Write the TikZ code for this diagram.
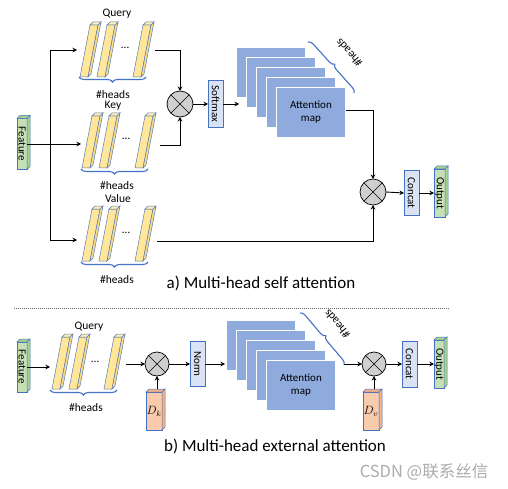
\documentclass[tikz,border=0pt]{standalone}
\usepackage{fontspec}
\setmainfont{Carlito}
\newfontfamily\cjkfont{Noto Sans CJK SC}
\usepackage{graphicx}
\usetikzlibrary{arrows.meta,decorations.pathreplacing,calc}
\definecolor{baryellow}{HTML}{FFE699}
\definecolor{barside}{HTML}{F7DB86}
\definecolor{baredge}{HTML}{5A7BB5}
\definecolor{featgreen}{HTML}{C5E0B4}
\definecolor{featside}{HTML}{A9D18E}
\definecolor{boxblue}{HTML}{DAE3F3}
\definecolor{edgeblue}{HTML}{4472C4}
\definecolor{attblue}{HTML}{8FAADC}
\definecolor{dfill}{HTML}{F8CBAD}
\definecolor{dside}{HTML}{F4B183}
\definecolor{circgray}{HTML}{D0CECE}
\tikzset{
 conn/.style={line width=0.9pt, draw=black},
 arr/.style={conn, -{Stealth[length=4.5pt,width=4.5pt]}},
 lbl/.style={font=\fontsize{11.5}{12}\selectfont, inner sep=0pt},
 vbox/.style={draw=edgeblue, fill=boxblue, line width=0.7pt, minimum width=15pt, inner sep=0pt, outer sep=0pt, font=\fontsize{11}{12}\selectfont},
 mult/.style={circle, draw=black, fill=circgray, line width=0.7pt, minimum size=26pt, inner sep=0pt, outer sep=0pt},
 prismfront/.style={draw=edgeblue, line width=0.6pt, inner sep=0pt, outer sep=0pt, font=\fontsize{11}{12}\selectfont},
 attrect/.style={fill=attblue, draw=white, line width=0.8pt, minimum width=69pt, minimum height=50pt, anchor=north west, inner sep=0pt},
 headbrace/.style={decorate, decoration={brace, amplitude=5pt}, draw=edgeblue, line width=1.1pt},
 captxt/.style={font=\fontsize{17}{20}\selectfont, inner sep=0pt},
}
\newcommand{\headbar}[3]{%
 \filldraw[fill=baryellow, draw=baredge, line width=0.5pt] (#1,#2) -- ({#1+8},#2) -- ({#1+18},#3) -- ({#1+10},#3) -- cycle;
 \filldraw[fill=barside, draw=baredge, line width=0.5pt] ({#1+8},#2) -- ({#1+11},{#2-3}) -- ({#1+21},{#3-3}) -- ({#1+18},#3) -- cycle;
 \filldraw[fill=baryellow!70!white, draw=baredge, line width=0.5pt] ({#1+10},#3) -- ({#1+18},#3) -- ({#1+21},{#3-3}) -- ({#1+13},{#3-3}) -- cycle;}
\newcommand{\prismsides}[2]{%
 \filldraw[fill=#2, draw=edgeblue, line width=0.5pt] (#1.north west) -- ++(3pt,3pt) -- ($(#1.north east)+(3pt,3pt)$) -- (#1.north east) -- cycle;
 \filldraw[fill=#2, draw=edgeblue, line width=0.5pt] (#1.north east) -- ++(3pt,3pt) -- ($(#1.south east)+(3pt,3pt)$) -- (#1.south east) -- cycle;}
\newcommand{\xcross}[1]{\draw[line width=0.6pt] (#1.north west) -- (#1.south east) (#1.north east) -- (#1.south west);}
\begin{document}
\begin{tikzpicture}[x=1pt,y=-1pt]
\useasboundingbox[fill=white] (0,0) rectangle (508,489);

% ---------- part a ----------
\node[prismfront, fill=featgreen, minimum width=10pt, minimum height=51pt] (fa) at (22,144) {\rotatebox{-90}{Feature}};
\prismsides{fa}{featside}
\coordinate (sp) at (50,144);
\coordinate (qin) at (77,50);
\coordinate (kin) at (81,144);
\coordinate (vin) at (77,240);
\draw[arr] (fa.east) -- (kin);
\draw[arr] (sp) |- (qin);
\draw[arr] (sp) |- (vin);

\headbar{80}{77}{25}\headbar{97}{77}{25}\headbar{133}{77}{25}
\headbar{82}{168}{116}\headbar{99}{168}{116}\headbar{135}{168}{116}
\headbar{82}{261}{209}\headbar{99}{261}{209}\headbar{135}{261}{209}
\node[lbl] (qdots) at (125,48) {\dots};
\node[lbl] (kdots) at (126,139) {\dots};
\node[lbl] (vdots) at (126,233) {\dots};
\draw[headbrace] (146,77) -- (79,77);
\draw[headbrace] (148,169) -- (81,169);
\draw[headbrace] (148,262) -- (81,262);
\node[lbl] (qlab) at (117,14) {Query};
\node[lbl] (h1) at (113,95) {\#heads};
\node[lbl] (klab) at (113,106) {Key};
\node[lbl] (h2) at (117,186) {\#heads};
\node[lbl] (vlab) at (118,199) {Value};
\node[lbl] (h3) at (117,280) {\#heads};

\coordinate (qout) at (155,50);
\coordinate (kout) at (160,145);
\coordinate (vout) at (157,241);
\node[mult] (m1) at (180,104) {};
\xcross{m1}
\draw[arr] (qout) -| (m1.north);
\draw[arr] (kout) -| (m1.south);
\node[vbox, minimum height=47pt] (sm) at (215.5,104) {\rotatebox{-90}{Softmax}};
\draw[arr] (m1.east) -- (sm.west);
\coordinate (attin) at (239,104);
\draw[arr] (sm.east) -- (attin);
\foreach \i in {0,...,3} \node[attrect] (aa\i) at ({236+10*\i},{47+10*\i}) {};
\node[attrect, font=\fontsize{11}{13}\selectfont, align=center] (aa4) at (276,87) {Attention\\map};
\draw[headbrace] (308,42) -- (354,93);
\node[lbl, rotate=132] (hA) at (349,53) {\#heads};

\node[mult] (m2) at (373,192) {};
\xcross{m2}
\draw[arr] ([yshift=2pt]aa4.east) -| (m2.north);
\draw[arr] (vout) -| (m2.south);
\node[vbox, minimum height=45pt] (ca) at (411.5,193) {\rotatebox{-90}{Concat}};
\draw[arr] (m2.east) -- (ca.west);
\node[prismfront, fill=featgreen, minimum width=11pt, minimum height=48pt] (oa) at (439.5,193) {\rotatebox{-90}{Output}};
\prismsides{oa}{featside}
\draw[arr] (ca.east) -- (oa.west);
\node[captxt] (capa) at (261,283) {a) Multi-head self attention};

\coordinate (dl) at (14,308);
\coordinate (dr) at (450,308);
\draw[gray!80!black, line width=0.8pt, dash pattern=on 1pt off 1pt] (dl) -- (dr);

% ---------- part b ----------
\node[prismfront, fill=featgreen, minimum width=10pt, minimum height=50pt] (fb) at (22,367) {\rotatebox{-90}{Feature}};
\prismsides{fb}{featside}
\coordinate (bin) at (50,367);
\draw[arr] (fb.east) -- (bin);
\headbar{52}{389}{337}\headbar{69}{389}{337}\headbar{104}{389}{337}
\node[lbl] (bdots) at (95,362) {\dots};
\draw[headbrace] (117,390) -- (50,390);
\node[lbl] (qlabb) at (89,327) {Query};
\node[lbl] (hb) at (86,408) {\#heads};
\coordinate (bout) at (126,364);
\node[mult, minimum size=24pt] (m3) at (157,364) {};
\xcross{m3}
\draw[arr] (bout) -- (m3.west);
\node[prismfront, fill=dfill, minimum width=16pt, minimum height=38pt] (dk) at (154,411) {\fontsize{12}{12}\selectfont$D_k$};
\prismsides{dk}{dside}
\coordinate (dktop) at ([shift={(3pt,3pt)}]dk.north);
\draw[arr] (dktop) -- (m3.south);
\node[vbox, minimum height=45pt] (nm) at (197.5,364) {\rotatebox{-90}{Norm}};
\draw[arr] (m3.east) -- (nm.west);
\coordinate (attinb) at (225,364);
\draw[arr] (nm.east) -- (attinb);
\foreach \i in {0,...,3} \node[attrect] (ab\i) at ({226+10*\i},{320+10*\i}) {};
\node[attrect, font=\fontsize{11}{13}\selectfont, align=center] (ab4) at (266,360) {Attention\\map};
\draw[headbrace] (300,313) -- (344,365);
\node[lbl, rotate=130] (hB) at (337,324) {\#heads};
\coordinate (braceend) at (344,364);
\node[mult, minimum size=24pt] (m4) at (374,364) {};
\xcross{m4}
\draw[arr] (braceend) -- (m4.west);
\node[prismfront, fill=dfill, minimum width=16pt, minimum height=38pt] (dv) at (371,411) {\fontsize{12}{12}\selectfont$D_v$};
\prismsides{dv}{dside}
\coordinate (dvtop) at ([shift={(3pt,3pt)}]dv.north);
\draw[arr] (dvtop) -- (m4.south);
\node[vbox, minimum height=46pt] (cb) at (409.5,364) {\rotatebox{-90}{Concat}};
\draw[arr] (m4.east) -- (cb.west);
\node[prismfront, fill=featgreen, minimum width=10pt, minimum height=48pt] (ob) at (439,364) {\rotatebox{-90}{Output}};
\prismsides{ob}{featside}
\draw[arr] (cb.east) -- (ob.west);
\node[captxt] (capb) at (275,446) {b) Multi-head external attention};

\node[font=\cjkfont\fontsize{16.5}{18}\selectfont, text=gray!65, inner sep=0pt] (wm) at (424,472) {CSDN @联系丝信};
\end{tikzpicture}
\end{document}
